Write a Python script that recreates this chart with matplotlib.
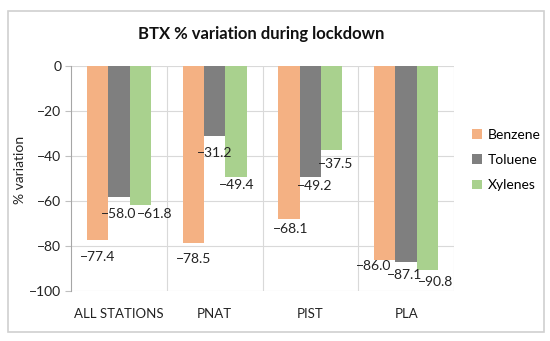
import numpy as np
import matplotlib
matplotlib.use("Agg")
import matplotlib.pyplot as plt
from matplotlib.patches import Rectangle

plt.rcParams["font.family"] = ["Lato", "DejaVu Sans"]

stations = ["ALL STATIONS", "PNAT", "PIST", "PLA"]
series = ["Benzene", "Toluene", "Xylenes"]
benzene = [-77.4, -78.5, -68.1, -86.0]
toluene = [-58.0, -31.2, -49.2, -87.1]
xylenes = [-61.8, -49.4, -37.5, -90.8]
colors = ["#F4B183", "#7F7F7F", "#A9D18E"]

# label nudges in pixels (dx, dy below bar end), like excel placed them
label_nudge = [
    [(0, 17), (0, 16), (2, 10), (-11, 7)],
    [(0, 17), (0, 17), (4, 9), (-1, 13)],
    [(15, 9), (1, 8), (4, 14), (8, 12)],
]

fig = plt.figure(figsize=(5.5, 3.41), dpi=100)
ax = fig.add_axes([71 / 550, 1 - 291 / 341, 383 / 550, 225 / 341])

# chart border
fig.patches.append(Rectangle((8 / 550, 1 - 332 / 341), 536 / 550, 321 / 341,
                             transform=fig.transFigure, fill=False,
                             edgecolor="#D0D0D0", linewidth=1.2))

x = np.arange(len(stations))
w = 0.222
for i, vals in enumerate([benzene, toluene, xylenes]):
    pos = x + (i - 1) * w
    ax.bar(pos, vals, width=w, color=colors[i], label=series[i], zorder=2)
    for j, v in enumerate(vals):
        dx, dy = label_nudge[i][j]
        ax.annotate(f"{v:.1f}".replace("-", "\u2212"), (pos[j], v),
                    xytext=(dx * 0.72, -dy * 0.72), textcoords="offset points",
                    ha="center", va="center", fontsize=10, color="#222222",
                    zorder=3)

ax.set_xlim(-0.5, 3.5)
ax.set_ylim(-100, 0)
ax.set_yticks(np.arange(-100, 1, 20))
ax.set_yticklabels([str(t).replace("-", "\u2212") for t in range(-100, 1, 20)])
ax.set_xticks(x)
ax.set_xticklabels(stations)
ax.set_xticks([0.5, 1.5, 2.5], minor=True)

ax.grid(axis="y", color="#D9D9D9", linewidth=0.8, zorder=0)
ax.grid(axis="x", which="minor", color="#D9D9D9", linewidth=0.8, zorder=0)
ax.axvline(3.5, color="#D9D9D9", linewidth=0.8, zorder=0)
for s in ["top", "right", "bottom"]:
    ax.spines[s].set_visible(False)
ax.spines["left"].set_color("#A6A6A6")
ax.spines["left"].set_linewidth(0.8)
ax.tick_params(axis="y", length=4, color="#BFBFBF", labelsize=10,
               labelcolor="#222222", pad=3)
ax.tick_params(axis="x", which="both", length=0, labelsize=9.5,
               labelcolor="#222222", pad=12)

ax.set_ylabel("% variation", fontsize=10, color="#222222")
ax.yaxis.set_label_coords(-45 / 383, 121 / 225)
fig.text(261 / 550, 1 - 34 / 341, "BTX % variation during lockdown",
         ha="center", va="center", fontsize=12, fontweight="bold",
         color="#111111")

ax.legend(loc="center left", bbox_to_anchor=(1.033, 0.582), frameon=False,
          handlelength=0.7, handleheight=0.7, handletextpad=0.4,
          labelspacing=0.95, fontsize=10, borderaxespad=0)

fig.savefig("out.png", dpi=100)
